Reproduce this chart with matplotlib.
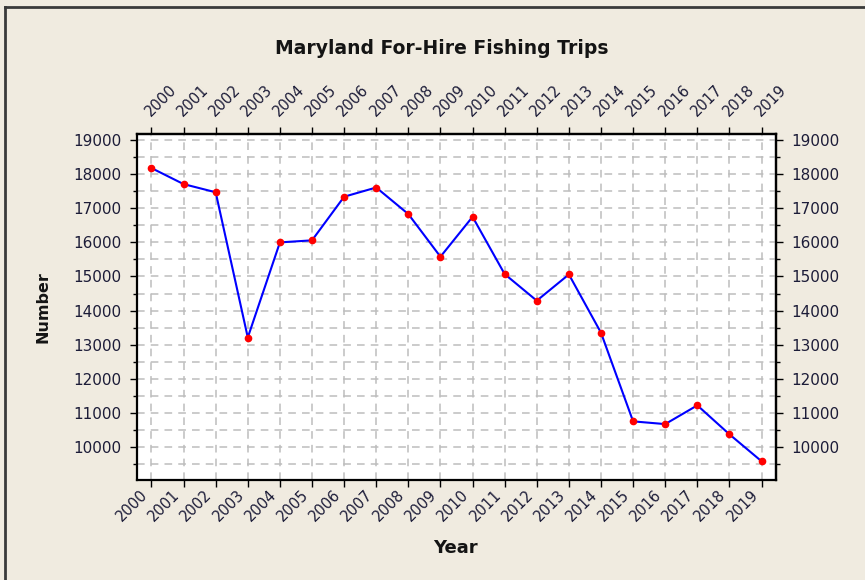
import matplotlib.pyplot as plt
from matplotlib.lines import Line2D
from matplotlib.ticker import MultipleLocator
from matplotlib.transforms import ScaledTranslation

# data
years = list(range(2000, 2020))
trips = [18180, 17710, 17470, 13210, 16000, 16060, 17340, 17610, 16830, 15580,
         16750, 15070, 14290, 15060, 13350, 10750, 10670, 11220, 10370, 9580]
year_labels = [str(y) for y in years]
y_ticks = list(range(10000, 19001, 1000))

bg = '#F0EBE0'
txt = '#1c1c38'

fig = plt.figure(figsize=(8.65, 5.8), dpi=100, facecolor=bg)
ax = fig.add_axes([0.1584, 0.1724, 0.7387, 0.5966])
ax.set_facecolor('white')

ax.plot(years, trips, color='#0000FF', lw=1.5, zorder=3)
ax.plot(years, trips, ls='none', marker='o', ms=4.5, color='#FF0000',
        mec='#FF0000', zorder=4)

ax.set_xlim(1999.55, 2019.45)
ax.set_ylim(9030, 19180)

ax.set_xticks(years)
ax.set_yticks(y_ticks)
ax.set_yticklabels([str(v) for v in y_ticks], fontsize=11, color=txt)
ax.yaxis.set_minor_locator(MultipleLocator(500))

ax.tick_params(axis='both', which='major', direction='out', length=5,
               width=1, color='black', pad=6)
ax.tick_params(axis='y', which='minor', direction='out', length=3, width=1)
ax.tick_params(axis='x', pad=4)
ax.set_xticklabels(year_labels, rotation=45, ha='right', va='center',
                   rotation_mode='anchor', fontsize=10.5, color=txt)

# grid, dashed, on every year and every 500
ax.grid(True, which='major', axis='x', color='#BDBDBD', ls=(0, (5, 4)), lw=1.1)
ax.grid(True, which='both', axis='y', color='#BDBDBD', ls=(0, (5, 4)), lw=1.1)
ax.set_axisbelow(True)

for s in ax.spines.values():
    s.set_linewidth(1.6)
    s.set_color('black')

# top and right mirrored axes
top = ax.secondary_xaxis('top')
top.set_xticks(years)
top.tick_params(direction='out', length=5, width=1, pad=4)
top.set_xticklabels(year_labels, rotation=45, ha='left', va='center',
                    rotation_mode='anchor', fontsize=10.5, color=txt)
top.spines['top'].set_linewidth(1.6)

right = ax.secondary_yaxis('right')
right.set_yticks(y_ticks)
right.set_yticklabels([str(v) for v in y_ticks], fontsize=11, color=txt)
right.yaxis.set_minor_locator(MultipleLocator(500))
right.tick_params(which='major', direction='out', length=5, width=1, pad=6)
right.tick_params(which='minor', direction='out', length=3, width=1)
right.spines['right'].set_linewidth(1.6)

# nudge the slanted year labels to where the original puts them
for lab in ax.get_xticklabels():
    lab.set_transform(lab.get_transform()
                      + ScaledTranslation(-0.06, 0, fig.dpi_scale_trans))
for lab in top.get_xticklabels():
    lab.set_transform(lab.get_transform()
                      + ScaledTranslation(-0.04, 0.08, fig.dpi_scale_trans))

fig.text(0.511, 0.917, 'Maryland For-Hire Fishing Trips', ha='center',
         va='center', fontsize=13.5, fontweight='bold', color='#141414')
fig.text(0.0497, 0.471, 'Number', rotation=90, ha='center', va='center',
         fontsize=11.5, fontweight='bold', color='#141414')
fig.text(0.526, 0.055, 'Year', ha='center', va='center',
         fontsize=13, fontweight='bold', color='#141414')

# outer frame (top and left visible)
fig.add_artist(Line2D([0.006, 1.0], [0.988, 0.988], color='#3a3a3a', lw=2,
                      transform=fig.transFigure))
fig.add_artist(Line2D([0.006, 0.006], [0.0, 0.988], color='#3a3a3a', lw=2,
                      transform=fig.transFigure))

fig.savefig('out.png', dpi=100, facecolor=bg)
